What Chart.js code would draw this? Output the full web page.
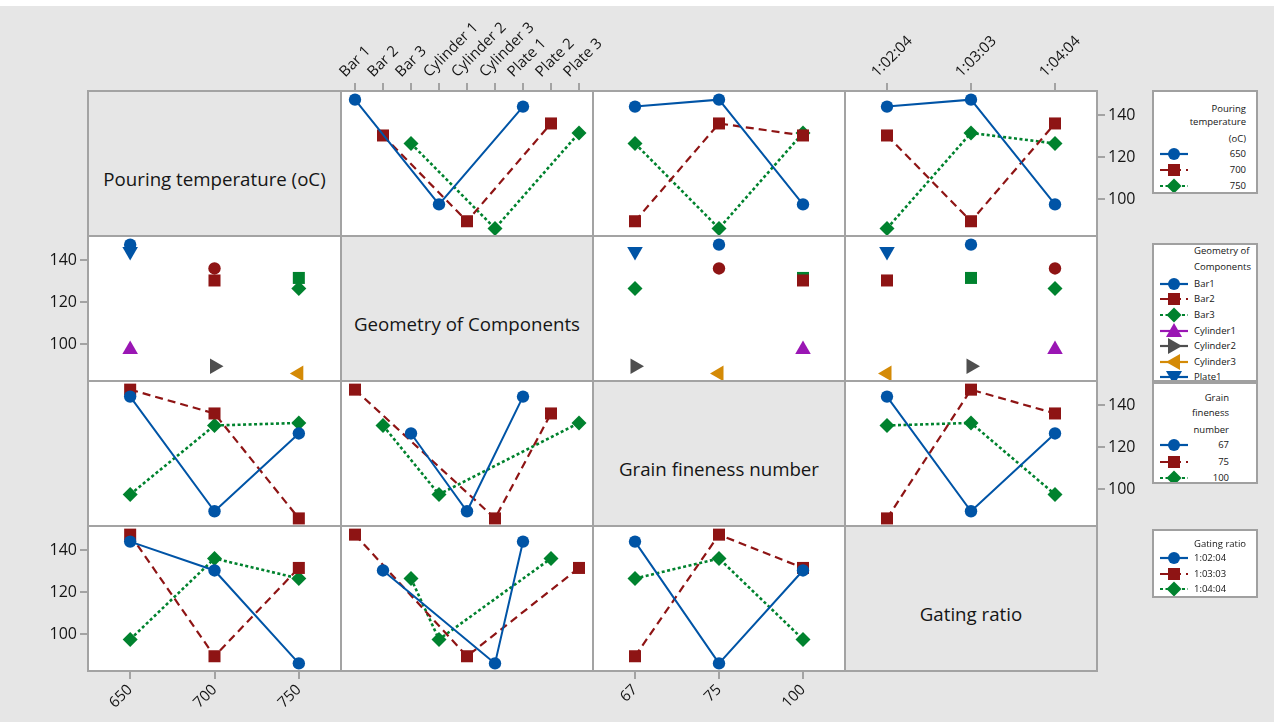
<!DOCTYPE html>
<html><head><meta charset="utf-8">
<script src="https://cdn.jsdelivr.net/npm/chart.js@4.4.0/dist/chart.umd.min.js"></script>
<style>
html,body{margin:0;padding:0;background:#fff;}
#wrap{position:relative;width:1274px;height:722px;background:#e6e6e6;overflow:hidden;font-family:"Open Sans",sans-serif;}
#topstrip{position:absolute;left:0;top:0;width:1274px;height:6px;background:#fff;}
canvas{position:absolute;left:0;top:0;}
.diag{position:absolute;box-sizing:border-box;border:2px solid #a3a3a3;background:#e6e6e6;display:flex;align-items:center;justify-content:center;font-size:18.7px;color:#151515;padding-top:30px;white-space:nowrap;}
.legend{position:absolute;background:#fff;border:2px solid #a0a0a0;box-sizing:border-box;overflow:hidden;font-size:9.5px;color:#151515;}
.legend .t{position:absolute;white-space:nowrap;line-height:12px;transform:translateY(-6px);}
.legend svg{position:absolute;left:4px;}
</style></head>
<body>
<div id="wrap"><div id="topstrip"></div></div>
<script>
// ---- data ----
const temperatures = ['650','700','750'];
const geometries = ['Bar 1','Bar 2','Bar 3','Cylinder 1','Cylinder 2','Cylinder 3','Plate 1','Plate 2','Plate 3'];
const grainNumbers = ['67','75','100'];
const gatingRatios = ['1:02:04','1:03:03','1:04:04'];
// the nine experimental runs
const runGeometry    = ['Bar 1','Bar 2','Bar 3','Cylinder 1','Cylinder 2','Cylinder 3','Plate 1','Plate 2','Plate 3'];
const runTemperature = ['650','700','750','650','700','750','650','700','750'];
const runGrain       = ['75','100','67','100','67','75','67','75','100'];
const runGating      = ['1:03:03','1:02:04','1:04:04','1:04:04','1:03:03','1:02:04','1:02:04','1:04:04','1:03:03'];
const response       = [147.3, 130.3, 126.5, 97.6, 89.6, 86.2, 144.0, 136.0, 131.5];
const yTicks = [100, 120, 140];
const legendTitles = [['Pouring','temperature','(oC)'], ['Geometry of','Components'], ['Grain','fineness','number'], ['Gating ratio']];

// ---- styles ----
const seriesColors = ['#0054a6','#8e1414','#00822e','#9a16b4','#4f4f4f','#d48a06','#0054a6','#8e1414','#00822e'];
const seriesSymbols = ['circle','rect','rectRot','triangle','triangle','triangle','triangle','circle','rect'];
const seriesRot = [0,0,0,0,90,-90,180,0,0];
const seriesRadius = [6.2,8.5,7.5,9,9,9,9,6.2,8.5];
const seriesDash = [[],[8,5],[3,2.5],[],[],[],[],[],[]];
const seriesWidth = [2,2.2,2.6,2,2,2,2,2,2];

const factors = [
  {name:'Pouring temperature (oC)', levels:temperatures, runs:runTemperature},
  {name:'Geometry of Components', levels:geometries, runs:runGeometry},
  {name:'Grain fineness number', levels:grainNumbers, runs:runGrain},
  {name:'Gating ratio', levels:gatingRatios, runs:runGating}
];
const colEdges = [88, 341, 593, 845, 1097];
const rowEdges = [91, 236, 381, 526, 671];
const W = 1274, H = 722;
const Y_MIN = 82.6, Y_MAX = 151.4;
const wrap = document.getElementById('wrap');

function cellMean(tf, tl, xf, xl){
  let s = 0, n = 0;
  for (let k = 0; k < response.length; k++){
    if (tf.runs[k] === tl && xf.runs[k] === xl){ s += response[k]; n++; }
  }
  return n ? s / n : null;
}

const framePlugin = {
  id:'frame',
  beforeDraw(chart){
    const a = chart.chartArea, ctx = chart.ctx;
    ctx.save(); ctx.fillStyle = '#ffffff';
    ctx.fillRect(a.left, a.top, a.right - a.left, a.bottom - a.top);
    ctx.restore();
  },
  afterDraw(chart){
    const a = chart.chartArea, ctx = chart.ctx;
    ctx.save(); ctx.strokeStyle = '#a3a3a3'; ctx.lineWidth = 2;
    ctx.strokeRect(a.left, a.top, a.right - a.left, a.bottom - a.top);
    ctx.restore();
  }
};

for (let r = 0; r < 4; r++){
  for (let c = 0; c < 4; c++){
    if (r === c){
      const d = document.createElement('div');
      d.className = 'diag';
      d.style.left = (colEdges[c] - 1) + 'px';
      d.style.top = (rowEdges[r] - 1) + 'px';
      d.style.width = (colEdges[c+1] - colEdges[c] + 2) + 'px';
      d.style.height = (rowEdges[r+1] - rowEdges[r] + 2) + 'px';
      d.textContent = factors[r].name;
      wrap.appendChild(d);
      continue;
    }
    const tf = factors[r], xf = factors[c];
    const canvas = document.createElement('canvas');
    canvas.width = W; canvas.height = H;
    wrap.appendChild(canvas);
    const datasets = tf.levels.map((lv, i) => ({
      label: lv,
      data: xf.levels.map(xl => cellMean(tf, lv, xf, xl)),
      borderColor: seriesColors[i],
      backgroundColor: seriesColors[i],
      borderWidth: seriesWidth[i],
      borderDash: seriesDash[i],
      pointStyle: seriesSymbols[i],
      pointRotation: seriesRot[i],
      pointRadius: seriesRadius[i],
      pointHoverRadius: seriesRadius[i],
      pointBorderWidth: 0,
      spanGaps: true,
      clip: false,
      tension: 0
    }));
    const xPos = (r === 0 && (c === 1 || c === 3)) ? 'top' : ((r === 3 && (c === 0 || c === 2)) ? 'bottom' : null);
    const yPos = ((r === 0 || r === 2) && c === 3) ? 'right' : (((r === 1 || r === 3) && c === 0) ? 'left' : null);
    const XA = xPos === 'top' ? 85 : (xPos === 'bottom' ? 48 : 0);
    const YA = yPos ? 45 : 0;
    const fixX = s => { s.height = XA; s.paddingLeft = 0; s.paddingRight = 0; s.paddingTop = 0; s.paddingBottom = 0; };
    const fixY = s => { s.width = YA; s.paddingLeft = 0; s.paddingRight = 0; s.paddingTop = 0; s.paddingBottom = 0; };
    new Chart(canvas, {
      type:'line',
      data:{ labels: xf.levels, datasets },
      options:{
        responsive:false, animation:false, devicePixelRatio:1,
        events:[],
        layout:{ padding:{
          left: colEdges[c] - (yPos === 'left' ? YA : 0),
          right: W - colEdges[c+1] - (yPos === 'right' ? YA : 0),
          top: rowEdges[r] - (xPos === 'top' ? XA : 0),
          bottom: H - rowEdges[r+1] - (xPos === 'bottom' ? XA : 0)
        }},
        plugins:{ legend:{display:false}, tooltip:{enabled:false}, title:{display:false} },
        scales:{
          x:{
            type:'category', offset:true, display: !!xPos, position: xPos || 'bottom',
            grid:{ display:true, drawOnChartArea:false, drawTicks:true, tickLength:8, color:'#a3a3a3', lineWidth:2, offset:false },
            border:{ display:false },
            ticks:{ autoSkip:false, minRotation:45, maxRotation:45, padding:2, color:'#151515', font:{ family:'Open Sans', size:15 } },
            afterFit: fixX
          },
          y:{
            type:'linear', min:Y_MIN, max:Y_MAX, display: !!yPos, position: yPos || 'left',
            afterBuildTicks: s => { s.ticks = yTicks.map(v => ({ value: v })); },
            grid:{ display:true, drawOnChartArea:false, drawTicks:true, tickLength:8, color:'#a3a3a3', lineWidth:2 },
            border:{ display:false },
            ticks:{ padding:3, color:'#151515', font:{ family:'Open Sans', size:16 } },
            afterFit: fixY
          }
        }
      },
      plugins:[framePlugin]
    });
  }
}

// ---- legends (HTML) ----
function symbolSvg(i){
  const col = seriesColors[i];
  const dash = seriesDash[i].length ? `stroke-dasharray="${seriesDash[i].join(',')}"` : '';
  let m = '';
  const cx = 16, cy = 8;
  if (seriesSymbols[i] === 'circle') m = `<circle cx="${cx}" cy="${cy}" r="6" fill="${col}"/>`;
  else if (seriesSymbols[i] === 'rect') m = `<rect x="${cx-6}" y="${cy-6}" width="12" height="12" fill="${col}"/>`;
  else if (seriesSymbols[i] === 'rectRot') m = `<polygon points="${cx},${cy-7.5} ${cx+7.5},${cy} ${cx},${cy+7.5} ${cx-7.5},${cy}" fill="${col}"/>`;
  else m = `<polygon transform="rotate(${seriesRot[i]} ${cx} ${cy})" points="${cx},${cy-8} ${cx+8},${cy+6} ${cx-8},${cy+6}" fill="${col}"/>`;
  return `<svg width="32" height="16" viewBox="0 0 32 16"><line x1="2" y1="8" x2="30" y2="8" stroke="${col}" stroke-width="2.2" ${dash}/>${m}</svg>`;
}
const legendLayouts = [
  {top:90, height:104, align:'right', textPos:10, titleY:[17,30,47], itemY:[62,78,94]},
  {top:243, height:139, align:'left', textPos:40, titleY:[6,22], itemY:[38.5,53.5,69.5,85.5,100.5,116.5,132,148,164]},
  {top:382, height:102, align:'right', textPos:27, titleY:[14,29,46], itemY:[61,78,94]},
  {top:529, height:69, align:'left', textPos:40, titleY:[12.5], itemY:[27,43,58]}
];
legendLayouts.forEach((L, f) => {
  const box = document.createElement('div');
  box.className = 'legend';
  box.style.left = '1152px'; box.style.width = '106px';
  box.style.top = L.top + 'px'; box.style.height = L.height + 'px';
  box.style.zIndex = 10 + f;
  let html = '';
  legendTitles[f].forEach((t, k) => {
    const pos = L.align === 'right' ? `right:${L.textPos}px;text-align:right;` : `left:${L.textPos}px;`;
    html += `<div class="t" style="top:${L.titleY[k]}px;${pos}">${t}</div>`;
  });
  factors[f].levels.forEach((lv, i) => {
    const pos = L.align === 'right' ? `right:${L.textPos}px;text-align:right;` : `left:${L.textPos}px;`;
    html += `<div style="position:absolute;top:${L.itemY[i]-8}px;left:4px;width:32px;height:16px;">${symbolSvg(i).replace('<svg ', '<svg style="position:absolute;left:0;top:0" ')}</div>`;
    html += `<div class="t" style="top:${L.itemY[i]}px;${pos}">${lv.replace(/ (\d)$/, '$1')}</div>`;
  });
  box.innerHTML = html;
  wrap.appendChild(box);
});
</script>
</body></html>
